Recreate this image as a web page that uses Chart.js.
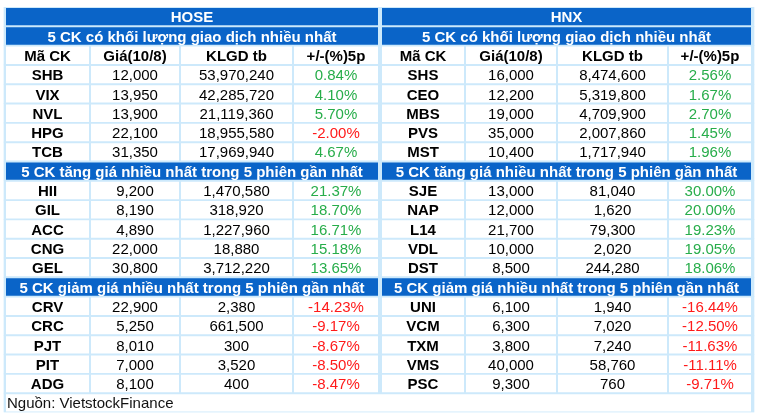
<!DOCTYPE html>
<html>
<head>
<meta charset="utf-8">
<script src="https://cdn.jsdelivr.net/npm/chart.js@4"></script>
<style>
  html, body { margin: 0; padding: 0; background: #ffffff; }
  canvas { display: block; }
</style>
</head>
<body>
<canvas id="tableChart" width="758" height="418"></canvas>
<script>
// HOSE
const hoseVolCodes = ['SHB', 'VIX', 'NVL', 'HPG', 'TCB'];
const hoseVolPrice = [12000, 13950, 13900, 22100, 31350];
const hoseVolKlgd = [53970240, 42285720, 21119360, 18955580, 17969940];
const hoseVolChg = [0.84, 4.10, 5.70, -2.00, 4.67];

const hoseUpCodes = ['HII', 'GIL', 'ACC', 'CNG', 'GEL'];
const hoseUpPrice = [9200, 8190, 4890, 22000, 30800];
const hoseUpKlgd = [1470580, 318920, 1227960, 18880, 3712220];
const hoseUpChg = [21.37, 18.70, 16.71, 15.18, 13.65];

const hoseDownCodes = ['CRV', 'CRC', 'PJT', 'PIT', 'ADG'];
const hoseDownPrice = [22900, 5250, 8010, 7000, 8100];
const hoseDownKlgd = [2380, 661500, 300, 3520, 400];
const hoseDownChg = [-14.23, -9.17, -8.67, -8.50, -8.47];

// HNX
const hnxVolCodes = ['SHS', 'CEO', 'MBS', 'PVS', 'MST'];
const hnxVolPrice = [16000, 12200, 19000, 35000, 10400];
const hnxVolKlgd = [8474600, 5319800, 4709900, 2007860, 1717940];
const hnxVolChg = [2.56, 1.67, 2.70, 1.45, 1.96];

const hnxUpCodes = ['SJE', 'NAP', 'L14', 'VDL', 'DST'];
const hnxUpPrice = [13000, 12000, 21700, 10000, 8500];
const hnxUpKlgd = [81040, 1620, 79300, 2020, 244280];
const hnxUpChg = [30.00, 20.00, 19.23, 19.05, 18.06];

const hnxDownCodes = ['UNI', 'VCM', 'TXM', 'VMS', 'PSC'];
const hnxDownPrice = [6100, 6300, 3800, 40000, 9300];
const hnxDownKlgd = [1940, 7020, 7240, 58760, 760];
const hnxDownChg = [-16.44, -12.50, -11.63, -11.11, -9.71];

const exchanges = ['HOSE', 'HNX'];
const sectionTitles = [
    '5 CK có khối lượng giao dịch nhiều nhất',
    '5 CK tăng giá nhiều nhất trong 5 phiên gần nhất',
    '5 CK giảm giá nhiều nhất trong 5 phiên gần nhất'
];
const columnHeaders = ['Mã CK', 'Giá(10/8)', 'KLGD tb', '+/-(%)5p'];
const sourceNote = 'Nguồn: VietstockFinance';

// layout
const BLUE = '#0a64c8';
const GRID = '#cde9fb';
const GREEN = '#27ad4a';
const RED = '#ff1a1a';
const FONT = '"Liberation Sans", Arial, sans-serif';
const panelEdges = [
    [6, 90, 180, 293, 378],
    [382, 465, 557, 668, 751]
];
const frameSpan = [4, 754];

const panels = [
    [
        { codes: hoseVolCodes, price: hoseVolPrice, klgd: hoseVolKlgd, chg: hoseVolChg },
        { codes: hoseUpCodes, price: hoseUpPrice, klgd: hoseUpKlgd, chg: hoseUpChg },
        { codes: hoseDownCodes, price: hoseDownPrice, klgd: hoseDownKlgd, chg: hoseDownChg }
    ],
    [
        { codes: hnxVolCodes, price: hnxVolPrice, klgd: hnxVolKlgd, chg: hnxVolChg },
        { codes: hnxUpCodes, price: hnxUpPrice, klgd: hnxUpKlgd, chg: hnxUpChg },
        { codes: hnxDownCodes, price: hnxDownPrice, klgd: hnxDownKlgd, chg: hnxDownChg }
    ]
];

// build row list: each row knows what to show in each panel
const rows = [];
rows.push({ kind: 'title' });
sectionTitles.forEach(function(t, s) {
    rows.push({ kind: 'sec', section: s });
    if (s === 0) rows.push({ kind: 'head' });
    for (let i = 0; i < 5; i++) rows.push({ kind: 'data', section: s, item: i });
});
rows.push({ kind: 'foot' });

const rowLabels = rows.map((r, i) => 'r' + i);

function cellRange(p, c) {
    const e = panelEdges[p];
    return [e[c] + (c > 0 ? 1 : 0), e[c + 1] - (c < 3 ? 1 : 0)];
}

const datasets = [];
// background frame behind everything
datasets.push({
    data: rows.map(() => frameSpan),
    backgroundColor: GRID,
    barPercentage: 1,
    order: 5
});
// white cells
for (let p = 0; p < 2; p++) {
    for (let c = 0; c < 4; c++) {
        datasets.push({
            data: rows.map(r => (r.kind === 'data' || r.kind === 'head') ? cellRange(p, c) : null),
            backgroundColor: '#ffffff',
            order: 1
        });
    }
    // blue spanning bars
    datasets.push({
        data: rows.map(r => (r.kind === 'title' || r.kind === 'sec') ? [panelEdges[p][0], panelEdges[p][4]] : null),
        backgroundColor: BLUE,
        order: 1
    });
}
// footer row
datasets.push({
    data: rows.map(r => r.kind === 'foot' ? [panelEdges[0][0], panelEdges[1][4]] : null),
    backgroundColor: '#ffffff',
    order: 1
});

function fmtNum(v) {
    return v.toLocaleString('en-US');
}

const textPlugin = {
    id: 'tableText',
    afterDatasetsDraw(chart) {
        const ctx = chart.ctx;
        const xs = chart.scales.x;
        const ys = chart.scales.y;
        ctx.save();
        ctx.textBaseline = 'middle';
        ctx.textAlign = 'center';
        rows.forEach(function(r, ri) {
            const y = ys.getPixelForValue(ri) + 1.5;
            if (r.kind === 'foot') {
                ctx.textAlign = 'left';
                ctx.fillStyle = '#111111';
                ctx.font = '15px ' + FONT;
                ctx.fillText(sourceNote, xs.getPixelForValue(panelEdges[0][0]) + 1, y);
                ctx.textAlign = 'center';
                return;
            }
            for (let p = 0; p < 2; p++) {
                const e = panelEdges[p];
                const mid = xs.getPixelForValue((e[0] + e[4]) / 2);
                if (r.kind === 'title') {
                    ctx.fillStyle = '#ffffff';
                    ctx.font = 'bold 15px ' + FONT;
                    ctx.fillText(exchanges[p], mid, y);
                } else if (r.kind === 'sec') {
                    ctx.fillStyle = '#ffffff';
                    ctx.font = 'bold 15px ' + FONT;
                    ctx.fillText(sectionTitles[r.section], mid, y);
                } else {
                    let texts, colors, fonts;
                    if (r.kind === 'head') {
                        texts = columnHeaders;
                        colors = ['#000', '#000', '#000', '#000'];
                        fonts = ['bold', 'bold', 'bold', 'bold'];
                    } else {
                        const s = panels[p][r.section];
                        const ch = s.chg[r.item];
                        texts = [s.codes[r.item], fmtNum(s.price[r.item]), fmtNum(s.klgd[r.item]), ch.toFixed(2) + '%'];
                        colors = ['#000', '#000', '#000', ch < 0 ? RED : GREEN];
                        fonts = ['bold', 'normal', 'normal', 'normal'];
                    }
                    for (let c = 0; c < 4; c++) {
                        const rg = cellRange(p, c);
                        ctx.fillStyle = colors[c];
                        ctx.font = fonts[c] + ' 15px ' + FONT;
                        ctx.fillText(texts[c], xs.getPixelForValue((rg[0] + rg[1]) / 2), y);
                    }
                }
            }
        });
        ctx.restore();
    }
};

const chart = new Chart(document.getElementById('tableChart').getContext('2d'), {
    type: 'bar',
    data: {
        labels: rowLabels,
        datasets: datasets
    },
    options: {
        indexAxis: 'y',
        responsive: false,
        animation: false,
        events: [],
        datasets: {
            bar: {
                grouped: false,
                categoryPercentage: 1,
                barPercentage: 0.9,
                borderWidth: 0,
                borderSkipped: false
            }
        },
        layout: {
            padding: { top: 7, bottom: 5.5, left: 0, right: 0 }
        },
        plugins: {
            legend: { display: false },
            tooltip: { enabled: false },
            title: { display: false }
        },
        scales: {
            x: { type: 'linear', min: 0, max: 758, display: false },
            y: { type: 'category', display: false, offset: true }
        }
    },
    plugins: [textPlugin]
});
</script>
</body>
</html>
